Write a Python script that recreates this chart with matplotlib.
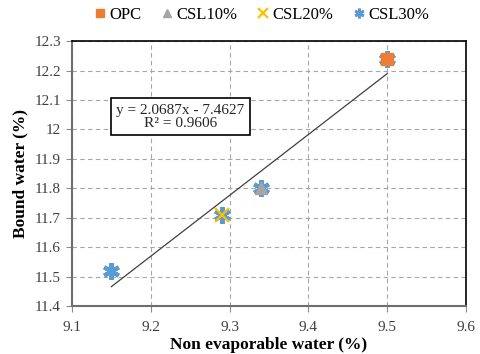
import matplotlib.pyplot as plt
import numpy as np

plt.rcParams['font.family'] = ['Liberation Serif', 'DejaVu Serif']

# data
series_names = ['OPC', 'CSL10%', 'CSL20%', 'CSL30%']
non_evap = [9.50, 9.34, 9.29, 9.15]
bound = [12.24, 11.80, 11.71, 11.52]
slope, intercept = 2.0687, -7.4627
xticks = [9.1, 9.2, 9.3, 9.4, 9.5, 9.6]
yticks = [11.4, 11.5, 11.6, 11.7, 11.8, 11.9, 12.0, 12.1, 12.2, 12.3]
ytick_labels = ['11.4', '11.5', '11.6', '11.7', '11.8', '11.9', '12', '12.1', '12.2', '12.3']

colors = ['#ED7D31', '#A5A5A5', '#FFC000', '#5B9BD5']
markers = ['s', '^', 'x', (6, 2, 0)]

fig = plt.figure(figsize=(4.8, 3.54), dpi=100)
ax = fig.add_axes([0.15, 0.1356, 0.821, 0.748])

# blue asterisks behind every point (all-points series)
ax.plot(non_evap, bound, linestyle='none', marker=(6, 2, 0), markersize=12,
        markeredgewidth=3, color='#5B9BD5', zorder=3)

# trendline
xt = np.array([min(non_evap), max(non_evap)])
ax.plot(xt, slope * xt + intercept, color='#404040', lw=0.9, zorder=2)

handles = []
for name, x, y, c, m in zip(series_names, non_evap, bound, colors, markers):
    if m == 'x':
        h, = ax.plot([x], [y], linestyle='none', marker=m, markersize=10,
                     markeredgewidth=1.6, color=c, zorder=4, label=name)
    elif name == 'CSL30%':
        h, = ax.plot([x], [y], linestyle='none', marker=m, markersize=10,
                     markeredgewidth=2, color=c, zorder=4, label=name)
    else:
        h, = ax.plot([x], [y], linestyle='none', marker=m, markersize=9,
                     color=c, zorder=4, label=name)
    handles.append(h)

ax.set_xlim(9.1, 9.6)
ax.set_ylim(11.4, 12.3)
ax.set_xticks(xticks)
ax.set_xticklabels([f'{v:.1f}' for v in xticks])
ax.set_yticks(yticks)
ax.set_yticklabels(ytick_labels)
ax.grid(True, linestyle=(0, (4, 3)), color='#A6A6A6', lw=0.8)
ax.set_axisbelow(True)

for s in ['top', 'right']:
    ax.spines[s].set_color('black')
    ax.spines[s].set_linewidth(1.2)
for s in ['left', 'bottom']:
    ax.spines[s].set_color('#6E6E6E')
    ax.spines[s].set_linewidth(1.5)

ax.tick_params(axis='both', labelsize=11, labelcolor='#404040', color='#8C8C8C',
               direction='out', length=4, width=0.8)
ax.tick_params(axis='x', pad=7)
ax.tick_params(axis='y', pad=4)

ax.set_xlabel('Non evaporable water (%)', fontsize=12.5, fontweight='bold', labelpad=2)
ax.set_ylabel('Bound water (%)', fontsize=12.5, fontweight='bold', labelpad=4)

ax.text(9.2377, 12.044, 'y = 2.0687x - 7.4627\nR² = 0.9606', ha='center', va='center',
        fontsize=11, color='#262626', linespacing=1.0,
        bbox=dict(boxstyle='square,pad=0.35', facecolor='white', edgecolor='black', lw=1.2))

fig.legend(handles=handles, loc='center', bbox_to_anchor=(0.545, 0.958), ncol=4,
           frameon=False, fontsize=12, handlelength=0.7, handletextpad=0.2,
           columnspacing=1.2, borderaxespad=0, markerscale=0.7)

fig.savefig('out.png', dpi=100, facecolor='white')
